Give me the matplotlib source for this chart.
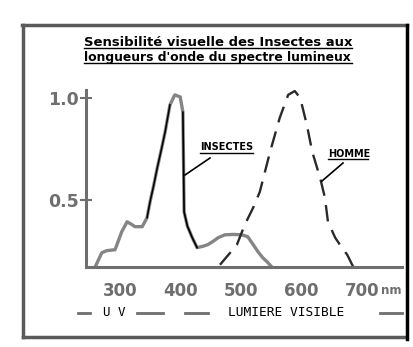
import matplotlib
matplotlib.use("Agg")
import matplotlib.pyplot as plt
from matplotlib.lines import Line2D

# ---- data ----
insect_nm = [258, 269, 277, 291, 302, 311, 318, 324, 336, 344, 349, 355, 361, 368,
             374, 382, 390, 399, 403.5, 405.5, 411, 419, 427, 437, 445, 453, 462,
             473, 488, 501, 511, 520, 528, 536, 543, 551]
insect_val = [0.17, 0.24, 0.25, 0.255, 0.343, 0.392, 0.38, 0.368, 0.368, 0.412, 0.49,
              0.57, 0.657, 0.75, 0.833, 0.966, 1.015, 1.005, 0.93, 0.44, 0.37, 0.314,
              0.265, 0.272, 0.28, 0.295, 0.314, 0.328, 0.33, 0.328, 0.319, 0.28, 0.245,
              0.215, 0.196, 0.17]
human_nm = [465, 479, 493, 506, 520, 531, 548, 564, 578, 589, 598, 609, 618, 631,
            639, 644, 656, 666, 676, 686]
human_val = [0.181, 0.23, 0.279, 0.377, 0.461, 0.539, 0.735, 0.902, 1.015, 1.034, 1.0,
             0.868, 0.735, 0.608, 0.51, 0.392, 0.314, 0.27, 0.23, 0.17]
x_ticks = [300, 400, 500, 600, 700]
x_labels = ["300", "400", "500", "600", "700"]
x_unit = "nm"
y_ticks = [0.5, 1.0]
y_labels = ["0.5", "1.0"]
title_lines = ["Sensibilité visuelle des Insectes aux", "longueurs d'onde du spectre lumineux"]

W, H = 414, 347
fig = plt.figure(figsize=(W / 100, H / 100), dpi=100)
fig.patch.set_facecolor("white")


def fx(px):
    return px / W


def fy(py):
    return 1 - py / H


GRAY = "#6e6e6e"
CURVE = "#858585"

ax = fig.add_axes([fx(86), fy(267), fx(402) - fx(86), fy(90) - fy(267)])
ax.set_xlim(242.8, 766.8)
ax.set_ylim(0.17, 1.039)
ax.patch.set_alpha(0)
for s in ["top", "right"]:
    ax.spines[s].set_visible(False)
for s in ["left", "bottom"]:
    ax.spines[s].set_color(GRAY)
    ax.spines[s].set_linewidth(2.2)

ax.set_xticks(x_ticks)
ax.set_xticklabels(x_labels)
ax.tick_params(axis="x", length=0, pad=11, labelsize=12, labelcolor=GRAY)
for t in ax.get_xticklabels():
    t.set_fontweight("bold")
ax.set_yticks(y_ticks)
ax.set_yticklabels(y_labels)
ax.tick_params(axis="y", direction="inout", length=8, width=1.5, color=GRAY,
               pad=1, labelsize=12.5, labelcolor=GRAY)
for t in ax.get_yticklabels():
    t.set_fontweight("bold")
fig.text(fx(381), fy(291), x_unit, fontsize=8.5, fontweight="bold", color=GRAY,
         va="center", ha="left")

# curves
ax.plot(insect_nm, insect_val, color=CURVE, lw=2.4, solid_capstyle="round",
        solid_joinstyle="round")
i0, i1 = insect_nm.index(344), insect_nm.index(382)
ax.plot(insect_nm[i0:i1 + 1], insect_val[i0:i1 + 1], color="black", lw=1.1)
j0, j1 = insect_nm.index(403.5), insect_nm.index(427)
ax.plot(insect_nm[j0:j1 + 1], insect_val[j0:j1 + 1], color="black", lw=1.2)
ax.plot(human_nm, human_val, color="#2a2a2a", lw=1.7, linestyle=(0, (7, 4)))

# labels with leader lines
fig.text(fx(200), fy(147), "INSECTES", fontsize=7, fontweight="bold",
         family="DejaVu Sans", va="center", ha="left")
fig.add_artist(Line2D([fx(200), fx(253)], [fy(152.5), fy(152.5)], color="black", lw=1))
fig.add_artist(Line2D([fx(210), fx(185)], [fy(158), fy(175)], color="black", lw=1.2))
fig.text(fx(328), fy(154), "HOMME", fontsize=7, fontweight="bold",
         family="DejaVu Sans", va="center", ha="left")
fig.add_artist(Line2D([fx(328), fx(368)], [fy(159.5), fy(159.5)], color="black", lw=1))
fig.add_artist(Line2D([fx(343), fx(322)], [fy(163), fy(181)], color="black", lw=1.2))

# title (underlined), scaled to the reference width
renderer = fig.canvas.get_renderer()
for line, ypx in zip(title_lines, [42, 57]):
    t = fig.text(fx(84), fy(ypx), line, fontsize=9, fontweight="bold",
                 family="DejaVu Sans", va="center", ha="left")
    w = t.get_window_extent(renderer).width
    t.set_fontsize(9 * 267 / w)
    fig.add_artist(Line2D([fx(84), fx(352)], [fy(ypx + 6), fy(ypx + 6)],
                          color="black", lw=1))

# bottom legend row
for a, b in [(78, 90), (137, 163), (185, 208), (380, 402)]:
    fig.add_artist(Line2D([fx(a), fx(b)], [fy(313), fy(313)], color=GRAY, lw=2))
fig.text(fx(103), fy(313), "U V", fontsize=9, family="DejaVu Sans Mono",
         va="center", ha="left")
fig.text(fx(228), fy(313), "LUMIERE VISIBLE", fontsize=9.3, family="DejaVu Sans Mono",
         va="center", ha="left")

# frame
fig.add_artist(Line2D([fx(22), fx(407)], [fy(25), fy(25)], color="#5a5a5a", lw=2.5))
fig.add_artist(Line2D([fx(23), fx(23)], [fy(25), fy(337)], color="#5a5a5a", lw=2.5))
fig.add_artist(Line2D([fx(23), fx(405)], [fy(337), fy(337)], color="#5a5a5a", lw=2.5))
fig.add_artist(Line2D([fx(407), fx(407)], [fy(25), fy(339)], color="black", lw=2.5))

fig.savefig("out.png", dpi=100, facecolor="white")
